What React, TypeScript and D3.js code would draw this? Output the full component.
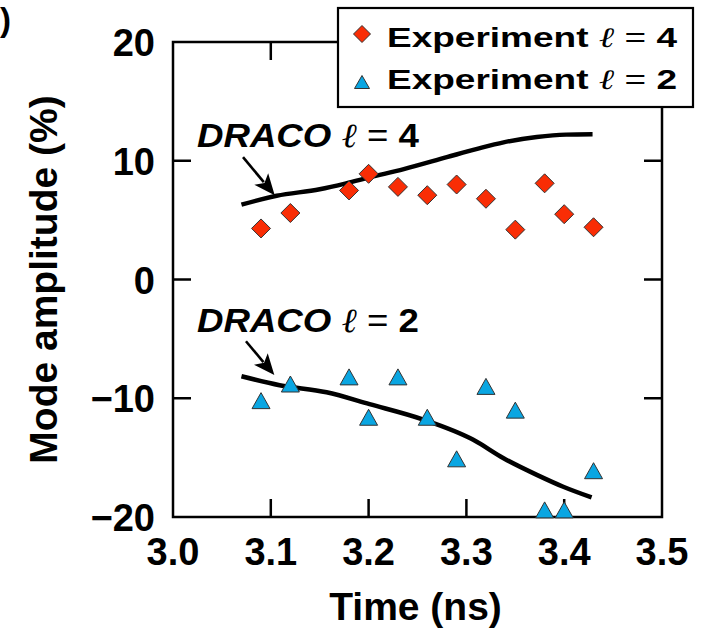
import React from "react";
import * as d3 from "d3";

const W = 704;
const H = 629;

const expTimes = [3.09, 3.12, 3.18, 3.2, 3.23, 3.26, 3.29, 3.32, 3.35, 3.38, 3.4, 3.43];
const exp4 = [4.3, 5.6, 7.5, 8.9, 7.8, 7.1, 8.0, 6.8, 4.2, 8.1, 5.5, 4.4];
const exp2 = [-10.2, -8.8, -8.2, -11.6, -8.2, -11.6, -15.1, -9.0, -11.0, -19.4, -19.4, -16.1];

const draco4T = [3.07, 3.106, 3.15, 3.177, 3.201, 3.236, 3.28, 3.311, 3.338, 3.372, 3.402, 3.429];
const draco4V = [6.3, 7.05, 7.6, 8.1, 8.6, 9.3, 10.3, 11.0, 11.55, 12.0, 12.2, 12.23];
const draco2T = [3.07, 3.109, 3.157, 3.201, 3.256, 3.307, 3.338, 3.372, 3.399, 3.428];
const draco2V = [-8.15, -8.9, -9.5, -10.5, -11.8, -13.5, -15.05, -16.45, -17.45, -18.35];

const xTicks = [3.0, 3.1, 3.2, 3.3, 3.4, 3.5];
const xTickLabels = ["3.0", "3.1", "3.2", "3.3", "3.4", "3.5"];
const yTicks = [20, 10, 0, -10, -20];
const yTickLabels = ["20", "10", "0", "\u221210", "\u221220"];

const legendLabels = ["4", "2"];

const arrows = [
  { from: [3.0716, 10.3], to: [3.104, 7.1] },
  { from: [3.0746, -5.2], to: [3.1036, -8.05] },
];
const dracoLabels = [
  { t: 3.0245, v: 11.18, l: "4" },
  { t: 3.0245, v: -4.4, l: "2" },
];

const RED = "#f92d05";
const BLUE = "#0aa6e2";
const FONT = "'Liberation Sans', Arial, Helvetica, sans-serif";

export default function App() {
  const L = 173, R = 662, T = 42, B = 517;
  const x = d3.scaleLinear().domain([3.0, 3.5]).range([L, R]);
  const y = d3.scaleLinear().domain([-20, 20]).range([B, T]);
  const tl = 18;

  const line = d3
    .line<[number, number]>()
    .x((d) => x(d[0]))
    .y((d) => y(d[1]))
    .curve(d3.curveMonotoneX);

  const d4 = line(draco4T.map((t, i) => [t, draco4V[i]] as [number, number])) || "";
  const d2 = line(draco2T.map((t, i) => [t, draco2V[i]] as [number, number])) || "";

  const diamond = (cx: number, cy: number, r: number) =>
    `M${cx},${cy - r}L${cx + r},${cy}L${cx},${cy + r}L${cx - r},${cy}Z`;
  const tri = (cx: number, cy: number, w: number, h: number) =>
    `M${cx},${cy - h / 2}L${cx + w / 2},${cy + h / 2}L${cx - w / 2},${cy + h / 2}Z`;

  const arrowEls = arrows.map((a, i) => {
    const x1 = x(a.from[0]), y1 = y(a.from[1]);
    const x2 = x(a.to[0]), y2 = y(a.to[1]);
    const ang = Math.atan2(y2 - y1, x2 - x1);
    const hl = 21, hw = 9;
    const bx = x2 - hl * Math.cos(ang), by = y2 - hl * Math.sin(ang);
    const px = -Math.sin(ang), py = Math.cos(ang);
    const head = `M${x2},${y2}L${bx + hw * px},${by + hw * py}L${bx + 5 * Math.cos(ang)},${by + 5 * Math.sin(ang)}L${bx - hw * px},${by - hw * py}Z`;
    return (
      <g key={i}>
        <line x1={x1} y1={y1} x2={bx + 4 * Math.cos(ang)} y2={by + 4 * Math.sin(ang)} stroke="#000" strokeWidth={2.6} />
        <path d={head} fill="#000" />
      </g>
    );
  });

  return (
    <svg
      width={W}
      height={H}
      style={{ position: "absolute", left: 0, top: 0, background: "#fff" }}
      fontFamily={FONT}
    >
      <rect x={0} y={0} width={W} height={H} fill="#fff" />
      {/* remnant of the panel label */}
      <text x={0} y={31} fontSize={33} fontWeight="bold">)</text>

      {/* frame */}
      <rect x={L} y={T} width={R - L} height={B - T} fill="none" stroke="#000" strokeWidth={2.5} />
      {/* ticks */}
      {xTicks.slice(1, -1).map((t) => (
        <g key={"xt" + t}>
          <line x1={x(t)} x2={x(t)} y1={B} y2={B - tl} stroke="#000" strokeWidth={2.5} />
          <line x1={x(t)} x2={x(t)} y1={T} y2={T + tl} stroke="#000" strokeWidth={2.5} />
        </g>
      ))}
      {yTicks.slice(1, -1).map((v) => (
        <g key={"yt" + v}>
          <line x1={L} x2={L + tl} y1={y(v)} y2={y(v)} stroke="#000" strokeWidth={2.5} />
          <line x1={R} x2={R - tl} y1={y(v)} y2={y(v)} stroke="#000" strokeWidth={2.5} />
        </g>
      ))}
      {/* tick labels */}
      {xTicks.map((t, i) => (
        <text key={"xl" + t} x={x(t)} y={565} fontSize={38} fontWeight="bold" textAnchor="middle">
          {xTickLabels[i]}
        </text>
      ))}
      {yTicks.map((v, i) => (
        <text key={"yl" + v} x={155} y={y(v) + 14} fontSize={38} fontWeight="bold" textAnchor="end">
          {yTickLabels[i]}
        </text>
      ))}
      {/* axis titles */}
      <text x={(L + R) / 2 - 2} y={620} fontSize={39} fontWeight="bold" textAnchor="middle">
        Time (ns)
      </text>
      <text
        transform={`translate(57,${(T + B) / 2}) rotate(-90)`}
        fontSize={39}
        fontWeight="bold"
        textAnchor="middle"
      >
        Mode amplitude (%)
      </text>

      {/* model curves */}
      <path d={d4} fill="none" stroke="#000" strokeWidth={4.5} />
      <path d={d2} fill="none" stroke="#000" strokeWidth={4.5} />

      {/* data */}
      {expTimes.map((t, i) => (
        <path key={"d" + i} d={diamond(x(t), y(exp4[i]), 9.5)} fill={RED} stroke="#333" strokeWidth={1} />
      ))}
      {expTimes.map((t, i) => (
        <path key={"t" + i} d={tri(x(t), y(exp2[i]), 18, 16)} fill={BLUE} stroke="#333" strokeWidth={1} />
      ))}

      {/* annotations */}
      {arrowEls}
      {dracoLabels.map((d, i) => (
        <text key={"dl" + i} x={x(d.t)} y={y(d.v)} fontSize={34} fontWeight="bold" textLength={222} lengthAdjust="spacingAndGlyphs">
          <tspan fontStyle="italic">DRACO</tspan>
          <tspan> </tspan>
          <tspan fontFamily="'Liberation Serif', serif" fontStyle="italic" fontWeight="normal">ℓ</tspan>
          <tspan fontWeight="normal"> = </tspan>
          <tspan>{d.l}</tspan>
        </text>
      ))}

      {/* legend */}
      <rect x={338} y={8} width={355} height={99} fill="#fff" stroke="#000" strokeWidth={2.2} />
      <path d={diamond(362, 34, 8.5)} fill={RED} stroke="#333" strokeWidth={1} />
      <path d={tri(362, 82, 15, 13)} fill={BLUE} stroke="#333" strokeWidth={1} />
      {legendLabels.map((l, i) => (
        <text key={"lg" + i} x={387} y={47 + i * 41.5} fontSize={28} fontWeight="bold" textLength={290} lengthAdjust="spacingAndGlyphs">
          <tspan>Experiment </tspan>
          <tspan fontFamily="'Liberation Serif', serif" fontStyle="italic" fontWeight="normal">ℓ</tspan>
          <tspan fontWeight="normal"> = </tspan>
          <tspan>{l}</tspan>
        </text>
      ))}
    </svg>
  );
}
